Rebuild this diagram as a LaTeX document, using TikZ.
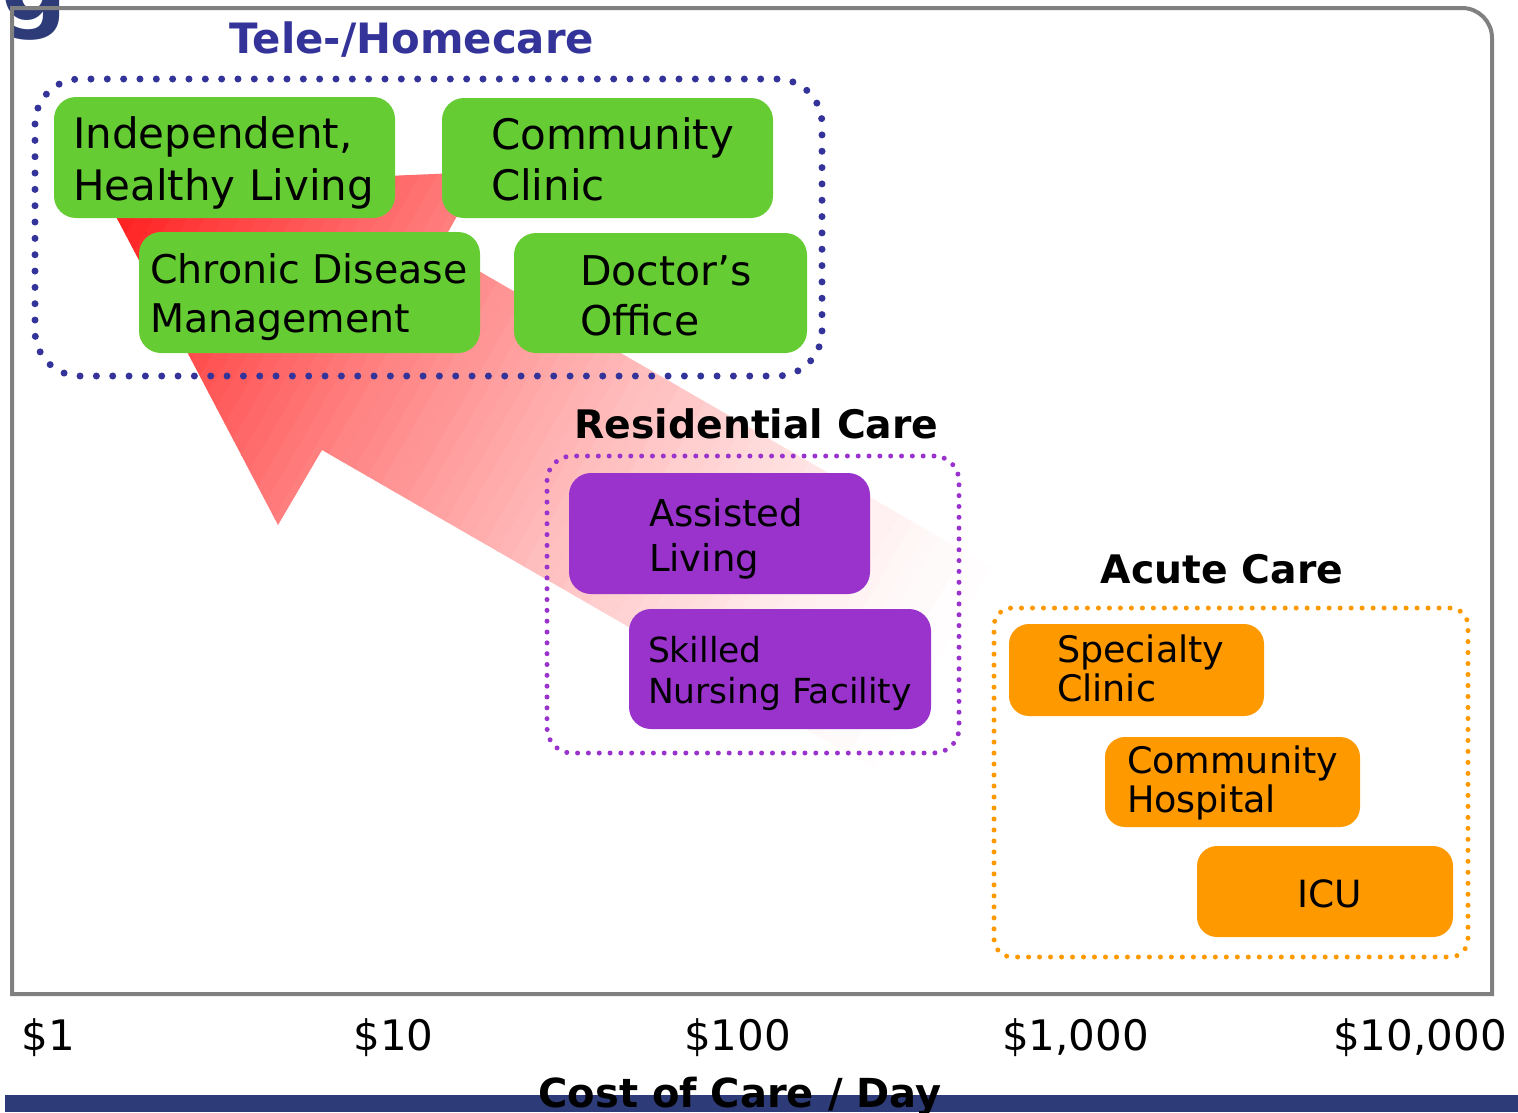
\documentclass[tikz,border=0pt]{standalone}
\usepackage{fontspec}
\setmainfont{DejaVu Sans}
\usetikzlibrary{calc}
\definecolor{navy}{RGB}{51,51,153}
\definecolor{barblue}{RGB}{45,59,120}
\definecolor{gfill}{RGB}{102,204,51}
\definecolor{pfill}{RGB}{153,51,204}
\definecolor{ofill}{RGB}{255,153,0}
\definecolor{framegray}{RGB}{128,128,128}
\definecolor{arrowred}{RGB}{255,22,22}
\newcommand\fsz[2]{\fontsize{#1}{#2}\selectfont}
\newcommand\twoline[2]{\vtop{\hbox{#1}\hbox{#2}}}
\begin{document}
\begin{tikzpicture}[x=1pt,y=-1pt,
  box/.style={draw=none, rounded corners=22pt, inner sep=0pt, outer sep=0pt, anchor=north west},
  gbox/.style={box, fill=gfill},
  pbox/.style={box, fill=pfill},
  obox/.style={box, fill=ofill, rounded corners=20pt},
  lbl/.style={inner sep=0pt, outer sep=0pt, anchor=base west, text=black},
  ctr/.style={inner sep=0pt, outer sep=0pt, anchor=base, text=black},
  dotframe/.style={inner sep=0pt, outer sep=0pt, anchor=north west, line cap=round, fill=none},
]
\useasboundingbox (0,0) rectangle (1518,1112);
\clip (0,0) rectangle (1518,1112);

% title remnant
\node[inner sep=0pt, anchor=base west, text=barblue, font=\bfseries\fsz{92}{92}] (gtitle) at (1,20) {g};

% frame
\draw[framegray, line width=4pt] (12,994) -- (12,8) -- (1462,8)
  .. controls (1478.6,8) and (1492,21.4) .. (1492,38) -- (1492,994) -- cycle;

% arrow
\coordinate (T) at (101,188);
\coordinate (UB) at (482,172);
\coordinate (UN) at (439,248);
\coordinate (UT) at (1062,608);
\coordinate (LT) at (946,810);
\coordinate (LN) at (322,450);
\coordinate (LB) at (278,525);
\begin{scope}
\clip (T) -- (UB) -- (UN) -- (UT) -- (LT) -- (LN) -- (LB) -- cycle;
\foreach \k in {0,...,71}{
  \pgfmathsetmacro\s{\k*15}
  \pgfmathsetmacro\e{\k*15+16}
  \pgfmathsetmacro\fr{max(0,1-(\k*15+7)/1000)}
  \pgfmathtruncatemacro\pct{100*\fr^1.5}
  \fill[arrowred!\pct!white] ($(T)+(30:\s)+(120:300)$) -- ($(T)+(30:\e)+(120:300)$)
     -- ($(T)+(30:\e)+(-60:300)$) -- ($(T)+(30:\s)+(-60:300)$) -- cycle;
}
\end{scope}

% group frames
\node[dotframe, draw=navy, line width=7pt, dash pattern=on 0pt off 16.334pt, rounded corners=45pt,
  minimum width=787pt, minimum height=297pt] (teleframe) at (35,79) {};
\node[dotframe, draw=pfill, line width=5pt, dash pattern=on 0pt off 10.828pt, rounded corners=25pt,
  minimum width=412pt, minimum height=297pt] (resframe) at (547,456) {};
\node[dotframe, draw=ofill, line width=5pt, dash pattern=on 0pt off 10.987pt, rounded corners=18pt,
  minimum width=474pt, minimum height=349pt] (acuteframe) at (994,608) {};

% headings
\node[ctr, text=navy, font=\bfseries\fsz{41.8}{42}] (telehead) at (412,53) {Tele-/Homecare};
\node[ctr, font=\bfseries\fsz{39.3}{39}] (reshead) at (756.5,438) {Residential Care};
\node[ctr, font=\bfseries\fsz{39.3}{39}] (acutehead) at (1222,583) {Acute Care};

% green boxes
\node[gbox, minimum width=341pt, minimum height=121pt] (indep) at (54,97) {};
\node[lbl, font=\fsz{42}{52}] (indeptxt) at (73,148) {\twoline{Independent,}{Healthy Living}};
\node[gbox, minimum width=331pt, minimum height=120pt] (cclinic) at (442,98) {};
\node[lbl, font=\fsz{42}{51}] (cclinictxt) at (491,149) {\twoline{Community}{Clinic}};
\node[gbox, minimum width=341pt, minimum height=121pt] (chronic) at (139,232) {};
\node[lbl, font=\fsz{39.5}{49}] (chronictxt) at (150,283) {\twoline{Chronic Disease}{Management}};
\node[gbox, minimum width=293pt, minimum height=120pt] (doctor) at (514,233) {};
\node[lbl, font=\fsz{41}{50}] (doctortxt) at (580,285) {\twoline{Doctor’s}{Office}};

% purple boxes
\node[pbox, minimum width=301pt, minimum height=121pt] (assisted) at (569,473) {};
\node[lbl, font=\fsz{37}{45}] (assistedtxt) at (649,526) {\twoline{Assisted}{Living}};
\node[pbox, minimum width=302pt, minimum height=120pt] (skilled) at (629,609) {};
\node[lbl, font=\fsz{34.5}{41}] (skilledtxt) at (648,662) {\twoline{Skilled}{Nursing Facility}};

% orange boxes
\node[obox, minimum width=255pt, minimum height=92pt] (spec) at (1009,624) {};
\node[lbl, font=\fsz{36.5}{39}] (spectxt) at (1057,662) {\twoline{Specialty}{Clinic}};
\node[obox, minimum width=255pt, minimum height=90pt] (chosp) at (1105,737) {};
\node[lbl, font=\fsz{36.5}{39}] (chosptxt) at (1127,773) {\twoline{Community}{Hospital}};
\node[obox, minimum width=256pt, minimum height=91pt] (icu) at (1197,846) {};
\node[ctr, font=\fsz{37.5}{40}] (icutxt) at (1329.5,907) {ICU};

% axis
\node[ctr, font=\fsz{42}{42}] (d1) at (48.5,1050) {\$1};
\node[ctr, font=\fsz{42}{42}] (d10) at (393.5,1050) {\$10};
\node[ctr, font=\fsz{42}{42}] (d100) at (737.5,1050) {\$100};
\node[ctr, font=\fsz{42}{42}] (d1000) at (1075.5,1050) {\$1,000};
\node[ctr, font=\fsz{42}{42}] (d10000) at (1420,1050) {\$10,000};

\fill[barblue] (5,1095) rectangle (1518,1112);
\node[ctr, font=\bfseries\fsz{40}{40}] (xlabel) at (740,1107) {Cost of Care / Day};
\end{tikzpicture}
\end{document}
